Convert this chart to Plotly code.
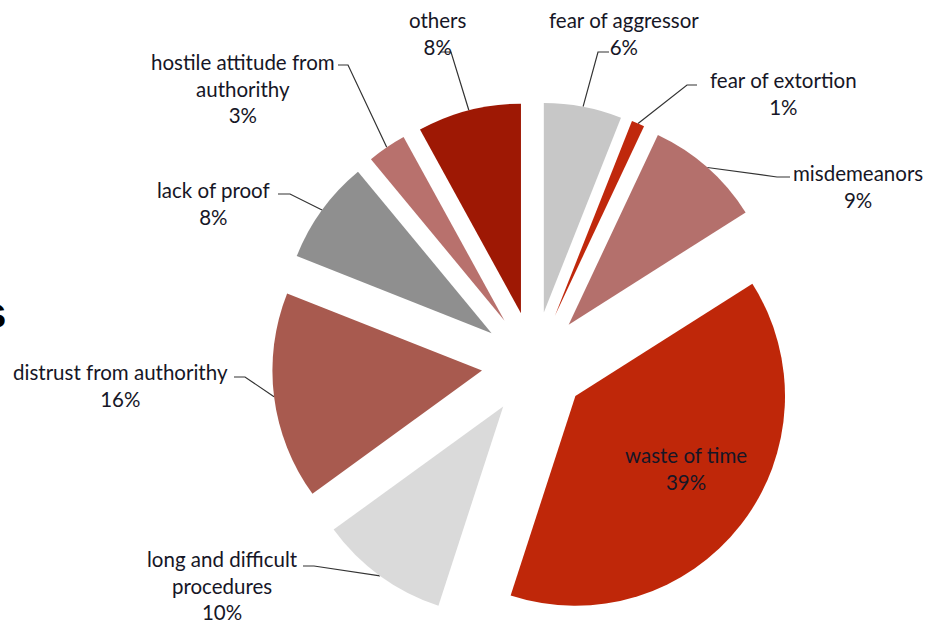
import numpy as np
import plotly.graph_objects as go

# ---- data ---------------------------------------------------------------
categories = [
    "fear of aggressor",
    "fear of extortion",
    "misdemeanors",
    "waste of time",
    "long and difficult procedures",
    "distrust from authorithy",
    "lack of proof",
    "hostile attitude from authorithy",
    "others",
]
shares = [6, 1, 9, 39, 10, 16, 8, 3, 8]
colors = [
    "#c7c7c7", "#c0280c", "#b4706c", "#bf2709", "#dadada",
    "#a85a4f", "#8f8f8f", "#b8716d", "#9e1804",
]
# how each label is broken into lines
label_lines = [
    ["fear of aggressor"],
    ["fear of extortion"],
    ["misdemeanors"],
    ["waste of time"],
    ["long and difficult", "procedures"],
    ["distrust from authorithy"],
    ["lack of proof"],
    ["hostile attitude from", "authorithy"],
    ["others"],
]

# ---- layout (pixels, origin top-left) -----------------------------------
W, H = 943, 626
CX, CY = 534, 364          # pie centre
PULL = 0.25
HALF = H - CY              # half-size of pie domain (room below centre)
R = HALF / (1 + PULL)      # plotly's slice radius for this domain

# label centre positions and leader-line start/elbow points
label_pos = [(624, 33), (783, 93), (858, 186), (686, 468), (222, 585),
             (120, 385), (213, 203), (243, 88), (437, 33)]
leader = [
    [(609, 52), (598, 52)],
    [(697, 85), (687, 85)],
    [(790, 177), (777, 177)],
    None,
    [(303, 566), (314, 566)],
    [(234, 377), (245, 377)],
    [(278, 194), (290, 194)],
    [(338, 65), (348, 65)],
    [(440, 52), (451, 52)],
]

FONT = "Lato, 'Gill Sans', sans-serif"
TEXT_COLOR = "#161626"
FS = 20.5

fig = go.Figure()

fig.add_trace(go.Pie(
    labels=categories,
    values=shares,
    sort=False,
    direction="clockwise",
    rotation=0,
    pull=[PULL] * len(shares),
    marker=dict(colors=colors, line=dict(width=0)),
    textinfo="none",
    hoverinfo="label+percent",
    showlegend=False,
    domain=dict(x=[(CX - HALF) / W, (CX + HALF) / W],
                y=[0, 2 * HALF / H]),
))

# leader lines: from the label to the outer arc at each slice's bisector
total = sum(shares)
cum = np.cumsum([0] + shares)
for i, v in enumerate(shares):
    if leader[i] is None:
        continue
    mid = np.deg2rad(360 * (cum[i] + v / 2) / total)
    ax = CX + (R * (1 + PULL)) * np.sin(mid)
    ay = CY - (R * (1 + PULL)) * np.cos(mid)
    pts = leader[i] + [(ax, ay)]
    fig.add_trace(go.Scatter(
        x=[p[0] for p in pts], y=[p[1] for p in pts],
        mode="lines", line=dict(color="#333333", width=1.2),
        hoverinfo="skip", showlegend=False,
    ))

# labels with percentages
for i, v in enumerate(shares):
    txt = "<br>".join(label_lines[i] + [f"{v}%"])
    fig.add_annotation(
        x=label_pos[i][0], y=label_pos[i][1], text=txt,
        showarrow=False, xanchor="center", yanchor="middle", align="center",
        font=dict(family=FONT, size=FS, color=TEXT_COLOR),
    )

# tail of the heading running in from the left edge
fig.add_annotation(
    x=8, y=312, text="<b>s</b>", showarrow=False,
    xanchor="right", yanchor="middle",
    font=dict(family="'Liberation Sans', Arial, sans-serif", size=44, color="#000"),
)

fig.update_layout(
    width=W, height=H,
    margin=dict(l=0, r=0, t=0, b=0),
    paper_bgcolor="white", plot_bgcolor="white",
    xaxis=dict(range=[0, W], visible=False, domain=[0, 1], fixedrange=True),
    yaxis=dict(range=[H, 0], visible=False, domain=[0, 1], fixedrange=True),
)

fig.write_html("out.html")
